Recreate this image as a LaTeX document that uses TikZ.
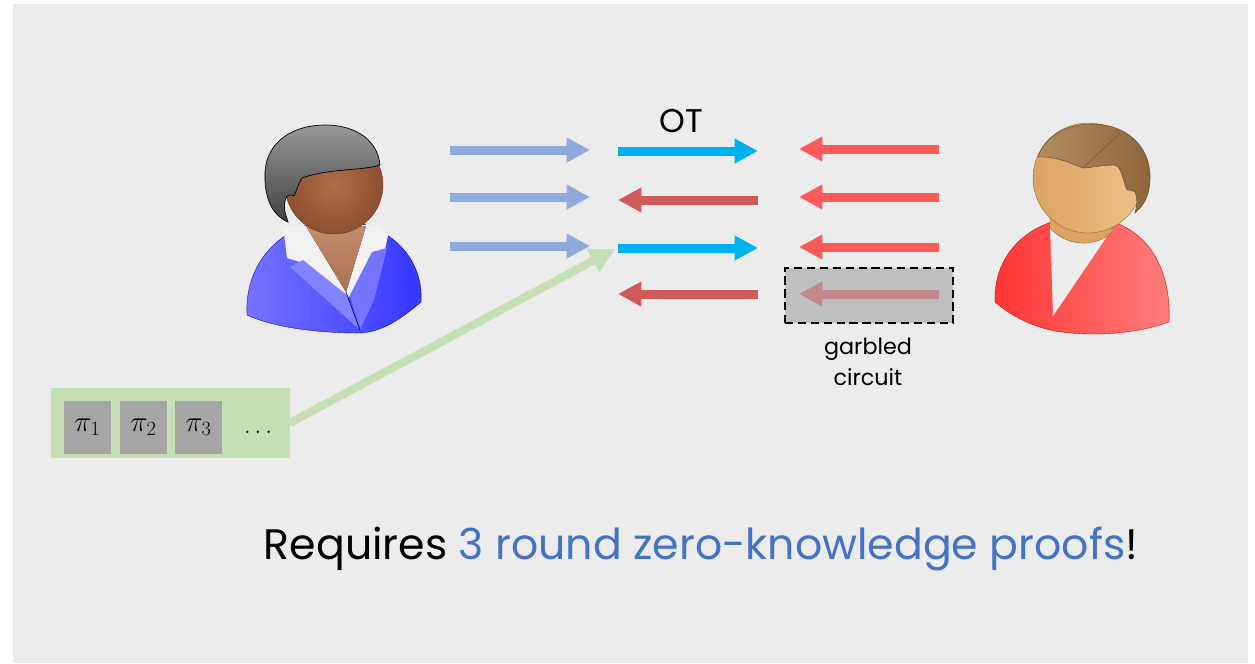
\documentclass[tikz,border=0pt]{standalone}
\usepackage{fontspec}
\setmainfont{Poppins}
\usetikzlibrary{arrows.meta}

\definecolor{bgray}{HTML}{ECECEC}
\definecolor{lblue}{HTML}{8FAADC}
\definecolor{otblue}{HTML}{00B0F0}
\definecolor{dred}{HTML}{D15A5A}
\definecolor{lred}{HTML}{FA5A5A}
\definecolor{fred}{HTML}{C48A8A}
\definecolor{gcbox}{HTML}{BFBFBF}
\definecolor{pfgreen}{HTML}{C5E0B4}
\definecolor{pfgray}{HTML}{A6A6A6}
\definecolor{tblue}{HTML}{4472C4}
\definecolor{jacketl}{HTML}{7575FF}
\definecolor{jacketr}{HTML}{3535FF}
\definecolor{skinw}{HTML}{B0704C}
\definecolor{skinwd}{HTML}{8E4E30}
\definecolor{skinm}{HTML}{EDC288}
\definecolor{skinmd}{HTML}{DCA463}
\definecolor{hairm}{HTML}{B48C62}
\definecolor{hairmd}{HTML}{8E663C}

\begin{document}
\begin{tikzpicture}[x=0.03cm,y=-0.03cm]
	\tikzstyle{msg}=[line width=0.27cm,-{Triangle[length=0.7cm,width=0.7cm]}]
	\tikzstyle{pibox}=[fill=pfgray,minimum width=1.41cm,minimum height=1.59cm,inner sep=0pt]
	\tikzstyle{lbl}=[inner sep=0pt,align=center]

	\useasboundingbox (0,0) rectangle (1255,663);
	\fill[bgray] (13,4) rectangle (1248,663);

	% woman on the left
	\draw[draw=blue!70!black,line width=0.3pt,left color=jacketl,right color=jacketr]
		(247,315) .. controls (244,260) and (285,222) .. (334,220)
		.. controls (385,220) and (424,255) .. (421,302)
		.. controls (400,320) and (380,333) .. (358,333)
		.. controls (320,333) and (275,328) .. (247,315) -- cycle;
	\fill[white!95!black] (283,226) -- (287,258) -- (300,262) -- (348,298) -- (385,250) -- (388,235) -- (375,225) -- cycle;
	\fill[top color=skinw!80!white,bottom color=skinw] (306,226) -- (346,292) -- (366,226) -- cycle;
	\fill[jacketl!90!white] (290,267) -- (303,260) -- (348,296) -- (360,330) -- cycle;
	\fill[jacketl] (387,248) -- (372,252) -- (350,295) -- (360,330) -- (374,300) -- cycle;
	\draw[blue!40!black,line width=0.6pt] (346,292) -- (360,330);
	\shade[inner color=skinw,outer color=skinwd,draw=skinwd!70!black,line width=0.3pt]
		(334,185) circle [radius=1.47cm];
	\draw[black,line width=0.6pt,top color=black!40,bottom color=black!75]
		(288,222) .. controls (272,215) and (264,198) .. (265,172)
		.. controls (267,140) and (295,125) .. (325,125)
		.. controls (358,125) and (378,142) .. (380,165)
		.. controls (362,171) and (330,168) .. (302,178)
		.. controls (298,184) and (297,190) .. (294,196)
		.. controls (287,192) and (283,200) .. (285,212) -- cycle;

	% man on the right
	\draw[draw=red!80!black,line width=0.3pt,left color=red!80!white,right color=red!50!white]
		(995,302) .. controls (993,250) and (1035,217) .. (1083,217)
		.. controls (1135,217) and (1172,255) .. (1169,322)
		.. controls (1130,336) and (1085,336) .. (1055,331)
		.. controls (1030,326) and (1010,315) .. (995,302) -- cycle;
	\fill[white!93!black] (1050,225) -- (1053,316) -- (1110,232) -- cycle;
	\draw[draw=skinmd!60!black,line width=0.3pt,fill=skinmd]
		(1050,210) -- (1050,228) .. controls (1070,250) and (1100,245) .. (1112,232) -- (1112,210) -- cycle;
	\shade[left color=skinmd,right color=skinm,draw=skinmd!60!black,line width=0.3pt]
		(1088,178) circle [radius=1.65cm];
	\draw[hairmd!80!black,line width=0.5pt,left color=hairm,right color=hairmd]
		(1038,157) .. controls (1045,135) and (1068,124) .. (1092,124)
		.. controls (1125,124) and (1150,145) .. (1150,177)
		.. controls (1150,190) and (1147,200) .. (1140,208) -- (1135,213)
		.. controls (1137,205) and (1138,198) .. (1135,192)
		.. controls (1132,190) and (1129,190) .. (1127,190)
		.. controls (1125,185) and (1124,180) .. (1122,175)
		.. controls (1120,168) and (1118,166) .. (1115,165)
		.. controls (1100,165) and (1090,168) .. (1083,168)
		.. controls (1068,162) and (1055,156) .. (1038,157) -- cycle;
	\draw[hairmd!80!black,line width=0.4pt] (1083,168) -- (1120,133);

	% messages from the left party
	\foreach \y [count=\i] in {150,197,246}{
		\coordinate (ls\i) at (450,\y);
		\coordinate (le\i) at (590,\y);
		\draw[msg,lblue] (ls\i) -- (le\i);
	}

	% OT rounds in the middle
	\foreach \y/\c/\d [count=\i] in {151/otblue/1,200/dred/0,248/otblue/1,294/dred/0}{
		\coordinate (ma\i) at (618,\y);
		\coordinate (mb\i) at (758,\y);
		\ifnum\d=1 \draw[msg,\c] (ma\i) -- (mb\i); \else \draw[msg,\c] (mb\i) -- (ma\i); \fi
	}
	\node[lbl,font=\fontsize{28}{28}\selectfont] (ot) at (681,121) {OT};

	% messages from the right party
	\node[fill=gcbox,draw=black,line width=1.3pt,dash pattern=on 7pt off 4pt,
		minimum width=5.04cm,minimum height=1.65cm,inner sep=0pt] (gc) at (869,295.5) {};
	\foreach \y [count=\i] in {149,197,247,294}{
		\coordinate (rs\i) at (939,\y);
		\coordinate (re\i) at (799,\y);
	}
	\foreach \i in {1,2,3}{\draw[msg,lred] (rs\i) -- (re\i);}
	\draw[msg,fred] (rs4) -- (re4);
	\node[lbl,font=\fontsize{19}{27}\selectfont] (gclbl) at (868,362) {garbled\\circuit};

	% proofs
	\node[fill=pfgreen,minimum width=7.14cm,minimum height=2.1cm,inner sep=0pt] (pf) at (170.5,423) {};
	\node[pibox] (p1) at (87.5,427.5) {\fontsize{24}{24}\selectfont$\pi_1$};
	\node[pibox] (p2) at (143.5,427.5) {\fontsize{24}{24}\selectfont$\pi_2$};
	\node[pibox] (p3) at (198.5,427.5) {\fontsize{24}{24}\selectfont$\pi_3$};
	\node[lbl] (pd) at (258,432) {\fontsize{22}{22}\selectfont$\dots$};
	\coordinate (pt) at (615,249);
	\draw[pfgreen,line width=0.24cm,-{Triangle[length=0.75cm,width=0.75cm]}] (pf.east) -- (pt);

	\node[lbl,font=\fontsize{36.4}{36.4}\selectfont] (req) at (701,549)
		{Requires {\color{tblue}3 round zero-knowledge proofs}!};
\end{tikzpicture}
\end{document}
